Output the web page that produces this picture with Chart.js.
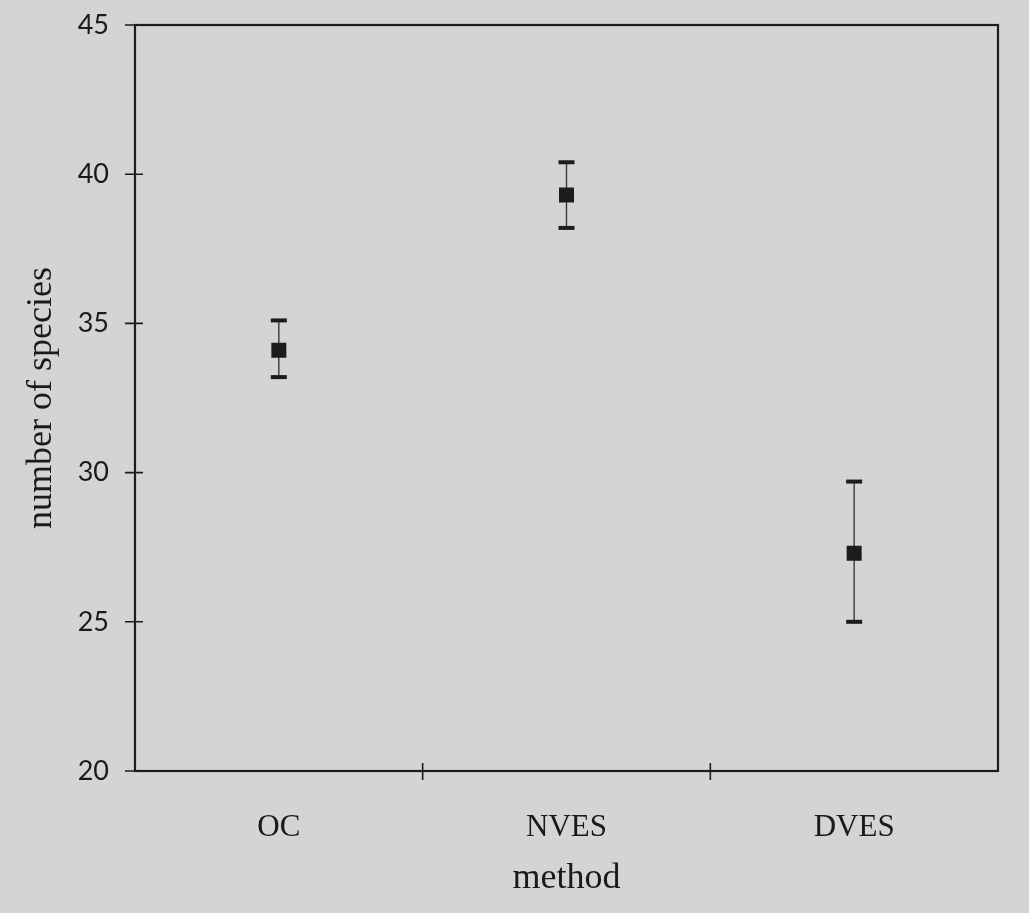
<!DOCTYPE html>
<html>
<head>
<meta charset="utf-8">
<script src="https://cdn.jsdelivr.net/npm/chart.js@4/dist/chart.umd.min.js"></script>
<style>
    html, body { margin: 0; padding: 0; background: #d4d4d4; }
    #wrap { width: 1029px; height: 913px; }
</style>
</head>
<body>
<div id="wrap"><canvas id="speciesChart"></canvas></div>
<script>
// Species counts per survey method, mean with error range
const methods = ['OC', 'NVES', 'DVES'];
const meanSpecies = [34.1, 39.3, 27.3];
const upperSpecies = [35.1, 40.4, 29.7];
const lowerSpecies = [33.2, 38.2, 25.0];
const yTicks = [20, 25, 30, 35, 40, 45];

const ink = '#1c1c1c';

// Frame around the plot and tick marks that cross the axes
const framePlugin = {
    id: 'frame',
    afterDraw(chart) {
        const { ctx, chartArea: a, scales: { x, y } } = chart;
        ctx.save();
        ctx.strokeStyle = ink;
        ctx.lineWidth = 2.2;
        ctx.strokeRect(a.left, a.top, a.right - a.left, a.bottom - a.top);

        ctx.lineWidth = 1.6;
        ctx.beginPath();
        yTicks.forEach(v => {
            const py = y.getPixelForValue(v);
            ctx.moveTo(a.left - 10, py);
            ctx.lineTo(a.left + (v === 45 ? 0 : 8), py);
        });
        for (let i = 0; i < methods.length - 1; i++) {
            const px = (x.getPixelForValue(i) + x.getPixelForValue(i + 1)) / 2;
            ctx.moveTo(px, a.bottom - 8);
            ctx.lineTo(px, a.bottom + 9);
        }
        ctx.stroke();
        ctx.restore();
    }
};

// Vertical error bars with flat caps
const errorBarPlugin = {
    id: 'errorBars',
    beforeDatasetsDraw(chart) {
        const { ctx, scales: { x, y } } = chart;
        ctx.save();
        methods.forEach((m, i) => {
            const px = x.getPixelForValue(i);
            const top = y.getPixelForValue(upperSpecies[i]);
            const bot = y.getPixelForValue(lowerSpecies[i]);
            ctx.strokeStyle = '#3a3a3a';
            ctx.lineWidth = 1.4;
            ctx.beginPath();
            ctx.moveTo(px, top);
            ctx.lineTo(px, bot);
            ctx.stroke();
            ctx.fillStyle = ink;
            ctx.fillRect(px - 8, top - 2, 16, 4);
            ctx.fillRect(px - 8, bot - 2, 16, 4);
        });
        ctx.restore();
    }
};

new Chart(document.getElementById('speciesChart'), {
    type: 'line',
    data: {
        labels: methods,
        datasets: [{
            data: meanSpecies,
            showLine: false,
            pointStyle: 'rect',
            pointRadius: 10.6,
            pointBackgroundColor: ink,
            pointBorderColor: ink,
            pointBorderWidth: 0
        }]
    },
    options: {
        responsive: true,
        maintainAspectRatio: false,
        animation: false,
        layout: {
            padding: { top: 25, right: 31, bottom: 0, left: 0 }
        },
        plugins: {
            legend: { display: false },
            tooltip: { enabled: false }
        },
        scales: {
            x: {
                offset: true,
                grid: { display: false, drawTicks: false },
                border: { display: false },
                ticks: {
                    color: '#1a1a1a',
                    padding: 38,
                    font: { family: '"Liberation Serif", serif', size: 31 }
                },
                title: {
                    display: true,
                    text: 'method',
                    color: '#1a1a1a',
                    padding: { top: 0, bottom: 13 },
                    font: { family: '"Liberation Serif", serif', size: 36 }
                },
                afterFit(scale) { scale.height = 142; }
            },
            y: {
                min: 20,
                max: 45,
                grid: { display: false, drawTicks: false },
                border: { display: false },
                afterBuildTicks(scale) {
                    scale.ticks = yTicks.map(v => ({ value: v }));
                },
                ticks: {
                    color: '#1a1a1a',
                    padding: 26,
                    font: { family: 'Lato, sans-serif', size: 27 }
                },
                title: {
                    display: true,
                    text: 'number of species',
                    color: '#1a1a1a',
                    padding: { top: 20, bottom: 0 },
                    font: { family: '"Liberation Serif", serif', size: 36 }
                },
                afterFit(scale) {
                    scale.width = 135;
                    // the label padding should not push the plot top down
                    scale.paddingTop = 0;
                    scale.paddingBottom = 0;
                }
            }
        }
    },
    plugins: [errorBarPlugin, framePlugin]
});
</script>
</body>
</html>
